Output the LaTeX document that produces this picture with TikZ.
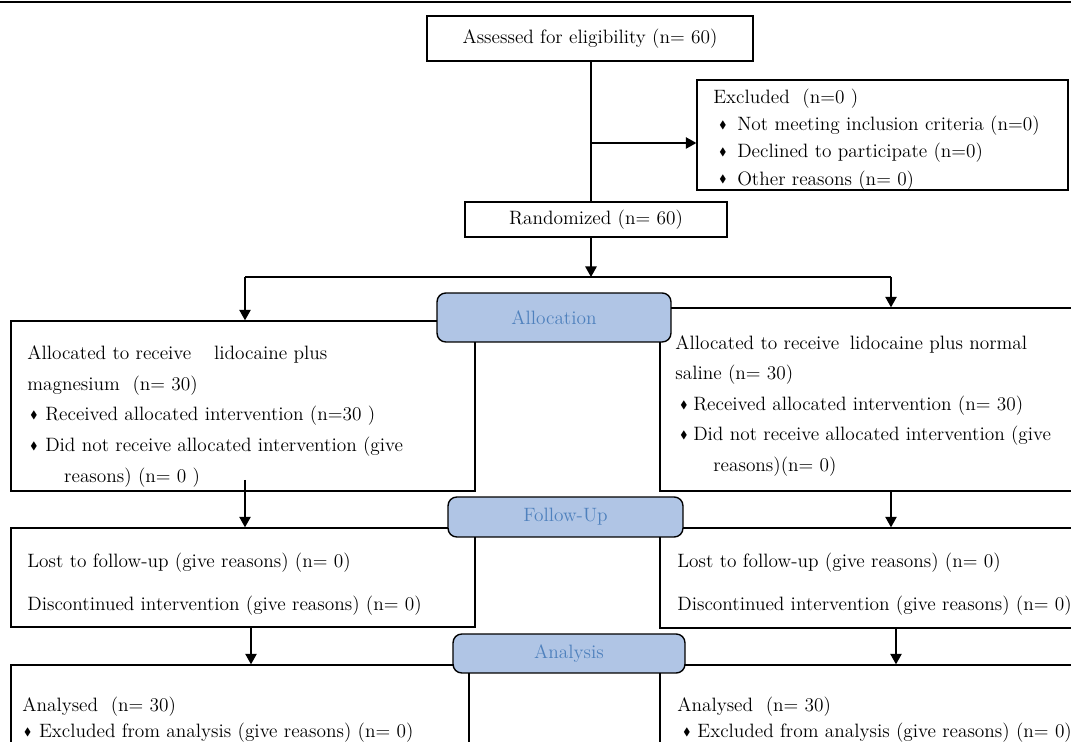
\documentclass[tikz,border=0pt]{standalone}
\usepackage{amsmath,amssymb}
\usepackage{xcolor}
\usepackage{graphicx}
\usetikzlibrary{arrows.meta,positioning,calc}

\definecolor{phasefill}{RGB}{176,197,229}
\definecolor{phasetext}{RGB}{79,129,189}
\newcommand{\itm}[1][9pt]{\makebox[#1][l]{\raisebox{0.25ex}{\scalebox{0.55}{$\blacklozenge$}}}}

\tikzset{
  box/.style={draw, line width=0.8pt, inner sep=0pt},
  phase/.style={draw, line width=0.8pt, fill=phasefill, rounded corners=5pt,
    text=phasetext, font=\fontsize{11}{13}\selectfont},
  txt/.style={anchor=north west, inner sep=0pt, align=left},
  arr/.style={line width=0.8pt, -{Triangle[length=6pt,width=6.5pt]}},
}

\begin{document}
\begin{tikzpicture}[x=0.02cm, y=-0.02cm, font=\fontsize{11}{13}\selectfont]
  \useasboundingbox (0,0) rectangle (1071,742);
  \clip (0,0) rectangle (1071,742);

  % top rule
  \draw [line width=1.2pt] (0,2) -- (1071,2);

  % Enrollment
  \node [box, minimum width=6.52cm, minimum height=0.9cm] (assess) at (590,38.5) {Assessed for eligibility (n= 60)\hspace{5.6pt}};
  \node [box, minimum width=7.42cm, minimum height=2.2cm] (excl) at (882.5,135) {};
  \node [txt, font=\fontsize{11}{15.4}\selectfont] (excltxt) at (713,89)
    {Excluded\ \ (n=0 )\\
     \hspace{3.4pt}\itm[10.2pt]Not meeting inclusion criteria (n=0)\\
     \hspace{3.4pt}\itm[10.2pt]Declined to participate (n=0)\\
     \hspace{3.4pt}\itm[10.2pt]Other reasons (n= 0)};
  \node [box, minimum width=5.24cm, minimum height=0.7cm] (random) at (596,219.5) {Randomized (n= 60)\hspace{6.8pt}};

  % Allocation
  \node [box, minimum width=9.28cm, minimum height=3.4cm] (allocL) at (243,406) {};
  \node [box, minimum width=8.6cm, minimum height=3.66cm] (allocR) at (875,399.5) {};
  \node [txt, font=\fontsize{11}{17.6}\selectfont] (allocLtxt) at (27,345)
    {Allocated to receive\hspace{13pt}lidocaine plus\\
     magnesium\ \ (n= 30)\\
     \hspace{1.7pt}\itm[8.5pt]Received allocated intervention (n=30 )\\
     \hspace{1.7pt}\itm[8.5pt]Did not receive allocated intervention (give\\
     \hspace{21pt}reasons) (n= 0 )};
  \node [txt, font=\fontsize{11}{17.4}\selectfont] (allocRtxt) at (675,335)
    {Allocated to receive\hspace{6pt}lidocaine plus normal\\
     saline (n= 30)\\
     \hspace{2.8pt}\itm[7.4pt]Received allocated intervention (n= 30)\\
     \hspace{2.8pt}\itm[7.4pt]Did not receive allocated intervention (give\\
     \hspace{21.6pt}reasons)(n= 0)};

  % Follow-Up
  \node [box, minimum width=9.28cm, minimum height=1.98cm] (fupL) at (243,577.5) {};
  \node [box, minimum width=8.6cm, minimum height=2cm] (fupR) at (875,578) {};
  \node [txt, font=\fontsize{11}{24.5}\selectfont] (fupLtxt) at (27,553)
    {Lost to follow-up (give reasons) (n= 0)\\
     Discontinued intervention (give reasons) (n= 0)};
  \node [txt, font=\fontsize{11}{24.5}\selectfont] (fupRtxt) at (677,553)
    {Lost to follow-up (give reasons) (n= 0)\\
     Discontinued intervention (give reasons) (n= 0)};

  % Analysis
  \node [box, minimum width=9.16cm, minimum height=1.9cm] (anaL) at (240,712.5) {};
  \node [box, minimum width=8.6cm, minimum height=1.9cm] (anaR) at (875,712.5) {};
  \node [txt, font=\fontsize{11}{14.8}\selectfont] (anaLtxt) at (22,697)
    {Analysed\ \ (n= 30)\\
     \hspace{1pt}\itm[8.5pt]Excluded from analysis (give reasons) (n= 0)};
  \node [txt, font=\fontsize{11}{14.8}\selectfont] (anaRtxt) at (677,697)
    {Analysed\ \ (n= 30)\\
     \hspace{3.4pt}\itm[8pt]Excluded from analysis (give reasons) (n= 0)};

  % phase labels
  \node [phase, minimum width=4.68cm, minimum height=0.98cm] (allocT) at (554,317.5) {Allocation};
  \node [phase, minimum width=4.7cm, minimum height=0.8cm] (fupT) at (565.5,517) {Follow-Up};
  \node [phase, minimum width=4.64cm, minimum height=0.78cm] (anaT) at (569,653.5) {Analysis};

  % connectors
  \coordinate (split) at (591,143);
  \coordinate (branch) at (591,277);
  \coordinate (bl) at (245,277);
  \coordinate (br) at (891,277);
  \coordinate (dl) at (245,480);
  \coordinate (el) at (251,0);
  \coordinate (er) at (896,0);

  \draw [line width=0.8pt] (assess.south -| split) -- (random.north -| split);
  \draw [arr] (split) -- (split -| excl.west);
  \draw [arr] (random.south -| branch) -- (branch);
  \draw [line width=0.8pt] (bl) -- (br);
  \draw [arr] (bl) -- (bl |- allocL.north);
  \draw [arr] (br) -- (br |- allocR.north);
  \draw [arr] (dl) -- (dl |- fupL.north);
  \draw [arr] (br |- allocR.south) -- (br |- fupR.north);
  \draw [arr] (el |- fupL.south) -- (el |- anaL.north);
  \draw [arr] (er |- fupR.south) -- (er |- anaR.north);
\end{tikzpicture}
\end{document}
